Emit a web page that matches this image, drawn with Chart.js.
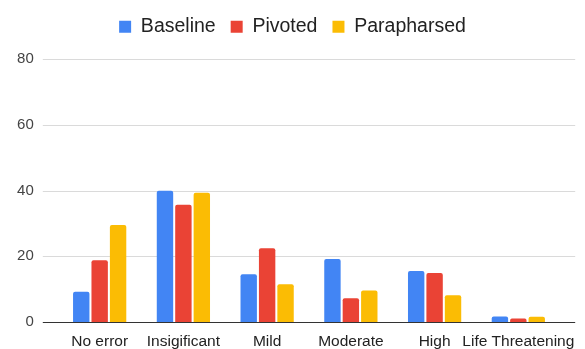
<!DOCTYPE html>
<html>
<head>
<meta charset="utf-8">
<script src="https://cdn.jsdelivr.net/npm/chart.js@4/dist/chart.umd.min.js"></script>
<style>
  html, body { margin: 0; padding: 0; background: #ffffff; }
  #wrap { width: 585px; height: 349px; position: relative; }
</style>
</head>
<body>
<div id="wrap"><canvas id="chart"></canvas></div>
<script>
// Error severity categories
const categories = ['No error', 'Insigificant', 'Mild', 'Moderate', 'High', 'Life Threatening'];

// Percentages per prompt variant
const baseline    = [9.2, 39.9, 14.5, 19.2, 15.5, 1.7];
const pivoted     = [18.8, 35.7, 22.4, 7.2, 14.9, 1.1];
const paraphrased = [29.5, 39.3, 11.5, 9.6, 8.1, 1.6];

// Value axis ticks
const yTicks = [0, 20, 40, 60, 80];

const FONT = '"Liberation Sans", Arial, sans-serif';

// Horizontal gridlines that run a little past the plotting area on both sides
const wideGrid = {
  id: 'wideGrid',
  beforeDatasetsDraw(chart) {
    const { ctx, chartArea, scales } = chart;
    const y = scales.y;
    ctx.save();
    ctx.lineWidth = 1;
    ctx.strokeStyle = '#dadada';
    yTicks.forEach(v => {
      if (v === 0) return;
      const py = Math.round(y.getPixelForValue(v)) + 0.5;
      ctx.beginPath();
      ctx.moveTo(chartArea.left - 15, py);
      ctx.lineTo(chartArea.right + 15, py);
      ctx.stroke();
    });
    ctx.restore();
  },
  afterDatasetsDraw(chart) {
    const { ctx, chartArea, scales } = chart;
    const py = Math.round(scales.y.getPixelForValue(0)) + 0.5;
    ctx.save();
    ctx.lineWidth = 1;
    ctx.strokeStyle = '#333333';
    ctx.beginPath();
    ctx.moveTo(chartArea.left - 15, py);
    ctx.lineTo(chartArea.right + 15, py);
    ctx.stroke();
    ctx.restore();
  }
};

// Give the legend a fixed band at the top of the canvas
const legendBand = {
  id: 'legendBand',
  beforeLayout(chart) {
    const lg = chart.legend;
    if (lg && !lg._bandPatched) {
      const fit = lg.fit;
      lg.fit = function () {
        fit.call(this);
        this.height = 57;
      };
      lg._bandPatched = true;
    }
  }
};

const barStyle = {
  borderWidth: 0,
  borderRadius: 2,
  categoryPercentage: 0.66,
  barPercentage: 0.89
};

new Chart(document.getElementById('chart'), {
  type: 'bar',
  data: {
    labels: categories,
    datasets: [
      Object.assign({ label: 'Baseline', data: baseline, backgroundColor: '#4285F4' }, barStyle),
      Object.assign({ label: 'Pivoted', data: pivoted, backgroundColor: '#EA4335' }, barStyle),
      Object.assign({ label: 'Parapharsed', data: paraphrased, backgroundColor: '#FBBC04' }, barStyle)
    ]
  },
  options: {
    responsive: true,
    maintainAspectRatio: false,
    animation: false,
    layout: { padding: { left: 0, right: 0, top: 2, bottom: 0 } },
    plugins: {
      legend: {
        position: 'top',
        align: 'center',
        labels: {
          font: { family: FONT, size: 19.5 },
          color: '#222222',
          boxWidth: 12,
          boxHeight: 12,
          padding: 15
        }
      },
      tooltip: { enabled: false }
    },
    scales: {
      x: {
        grid: { display: false, drawTicks: false },
        border: { display: false },
        ticks: {
          font: { family: FONT, size: 15.5 },
          color: '#222222',
          padding: 10,
          autoSkip: false,
          maxRotation: 0
        },
        afterFit(scale) {
          scale.paddingLeft = 0;
          scale.paddingRight = 24.8;
          scale.height = 27;
        }
      },
      y: {
        min: 0,
        max: 80,
        grid: { display: false, drawTicks: false },
        border: { display: false },
        afterBuildTicks(scale) {
          scale.ticks = yTicks.map(v => ({ value: v }));
        },
        ticks: {
          font: { family: FONT, size: 15 },
          color: '#444444',
          padding: 24
        },
        afterFit(scale) {
          scale.width = 57.8;
          scale.paddingTop = 0;
          scale.paddingBottom = 0;
        }
      }
    }
  },
  plugins: [legendBand, wideGrid]
});
</script>
</body>
</html>
